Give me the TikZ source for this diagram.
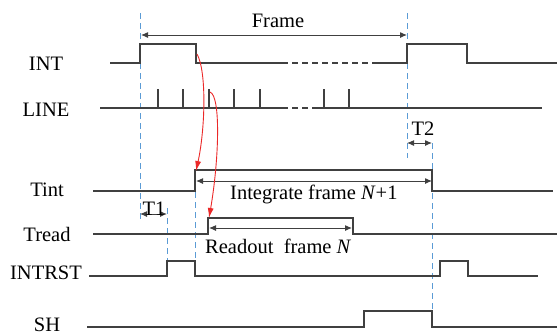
\documentclass[tikz,border=0pt]{standalone}
\usepackage{fontspec}
\setmainfont{Liberation Serif}
\newfontfamily\labelfont{Liberation Serif}
\usetikzlibrary{arrows.meta}
\definecolor{guideblue}{RGB}{91,155,213}
\definecolor{wavegray}{RGB}{64,64,64}
\definecolor{causered}{RGB}{235,40,40}

\begin{document}
\begin{tikzpicture}[x=1pt,y=-1pt,font=\labelfont\fontsize{20.5}{24}\selectfont,
  wave/.style={color=wavegray,line width=1.1pt},
  guide/.style={color=guideblue,line width=0.9pt,dash pattern=on 6pt off 4pt},
  span/.style={color=wavegray,line width=1pt,{Latex[length=7pt,width=6pt]}-{Latex[length=7pt,width=6pt]}},
  cause/.style={color=causered,line width=0.9pt,-{Latex[length=10pt,width=6pt]}}]
\useasboundingbox (0,0) rectangle (557,335);
%% signal names
\node [anchor=base] (nint) at (46,70) {INT};
\node [anchor=base] (nline) at (46,116) {LINE};
\node [anchor=base] (ntint) at (47,196) {Tint};
\node [anchor=base] (ntread) at (47,241) {Tread};
\node [anchor=base] (nintrst) at (46,279) {INTRST};
\node [anchor=base,inner sep=0pt] (nsh) at (47,331) {SH};
%% guide lines
\draw [guide] (140,13) -- (140,220);
\draw [guide] (407,13) -- (407,158);
\draw [guide] (167,208) -- (167,276);
\draw [guide] (195,172) -- (195,276);
\draw [guide] (432,143) -- (432,327);
%% INT
\draw [wave] (110,63) -- (140,63) -- (140,44) -- (196,44) -- (196,63) -- (282,63);
\draw [wave,dash pattern=on 6pt off 4pt] (282,63) -- (375,63);
\draw [wave] (375,63) -- (407,63) -- (407,44) -- (467,44) -- (467,63) -- (557,63);
%% LINE
\draw [wave] (100,108) -- (282,108);
\draw [wave,dash pattern=on 6pt off 4pt] (282,108) -- (316,108);
\draw [wave] (316,108) -- (542,108);
\foreach \x in {158,183,209,234,260,324,349}
  \draw [wave] (\x,108) -- (\x,89);
%% Tint
\draw [wave] (93,191) -- (195,191) -- (195,170) -- (432,170) -- (432,191) -- (553,191);
%% Tread
\draw [wave] (93,234) -- (208,234) -- (208,218) -- (353,218) -- (353,234) -- (557,234);
%% INTRST
\draw [wave] (89,276) -- (167,276) -- (167,261) -- (195,261) -- (195,276) -- (440,276) -- (440,261) -- (468,261) -- (468,276) -- (538,276);
%% SH
\draw [wave] (87,327) -- (364,327) -- (364,311) -- (432,311) -- (432,327) -- (557,327);
%% spans
\coordinate (fa) at (141,35);
\coordinate (fb) at (407,35);
\coordinate (ia) at (196,181);
\coordinate (ib) at (432,181);
\coordinate (ra) at (209,228);
\coordinate (rb) at (352,228);
\coordinate (t1a) at (140,214);
\coordinate (t1b) at (167,214);
\coordinate (t2a) at (407,143);
\coordinate (t2b) at (432,143);
\draw [span] (fa) -- (fb);
\draw [span] (ia) -- (ib);
\draw [span] (ra) -- (rb);
\draw [span] (t1a) -- (t1b);
\draw [span] (t2a) -- (t2b);
\node [anchor=base] (lframe) at (278,27) {Frame};
\node [anchor=base west,inner sep=0pt] (linteg) at (230,199) {Integrate frame \textit{N}+1};
\node [anchor=base west,inner sep=0pt] (lread) at (205,253) {Readout~ frame \textit{N}};
\node [anchor=base] (lt1) at (154,215) {T1};
\node [anchor=base] (lt2) at (423,135) {T2};
%% cause arrows
\coordinate (ca) at (197,54);
\coordinate (cb) at (196,171);
\coordinate (cc) at (210,92);
\coordinate (cd) at (209,218);
\draw [cause] (ca) .. controls (207,72) and (205,130) .. (cb);
\draw [cause] (cc) .. controls (221,96) and (219,160) .. (cd);
\end{tikzpicture}
\end{document}
